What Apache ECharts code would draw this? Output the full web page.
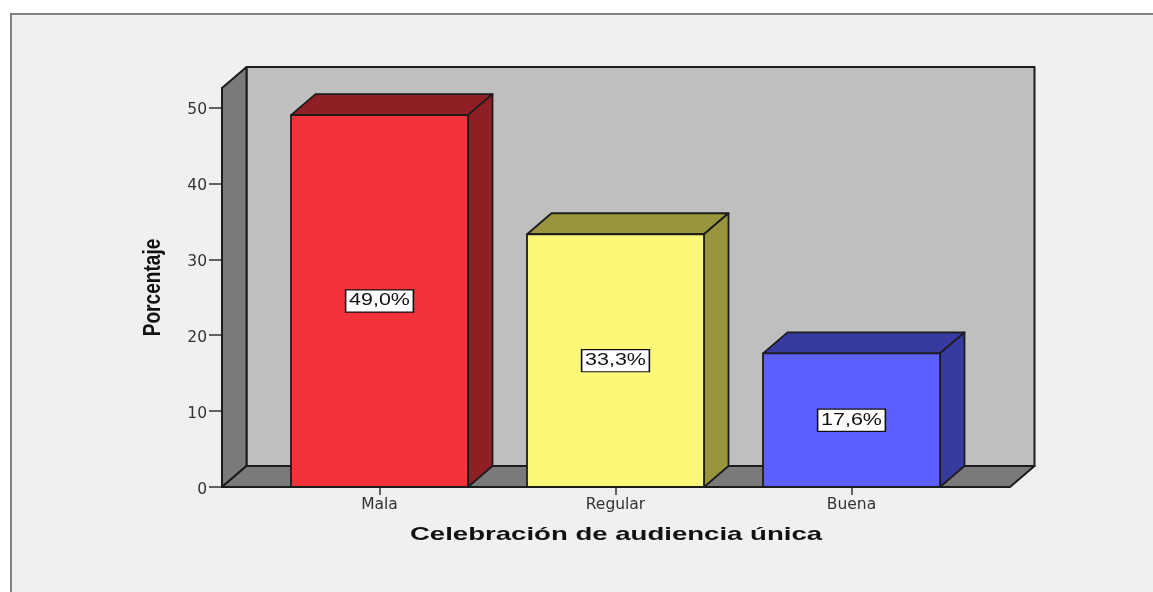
<!DOCTYPE html>
<html>
<head>
<meta charset="utf-8">
<style>html,body{margin:0;padding:0;background:#fff}#c{width:1153px;height:592px}</style>
<script src="https://cdn.jsdelivr.net/npm/echarts@6/dist/echarts.min.js"></script>
</head>
<body>
<div id="c"></div>
<script>
const categories = ['Mala', 'Regular', 'Buena'];
const percentages = [49.0, 33.3, 17.6];
const yTicks = [0, 10, 20, 30, 40, 50];
const frontColors = ['#f2333b', '#fbf877', '#5d5fff'];
const shadeColors = ['#8f1f24', '#99953f', '#373a9e'];
const xTitle = 'Celebración de audiencia única';
const yTitle = 'Porcentaje';

const depthX = 24.5, depthY = 21, padL = 39.5, padR = 40.5;
const ink = '#1c1c1c';
const chart = echarts.init(document.getElementById('c'));

function poly(points, fill, lw) {
  return { type: 'polygon', shape: { points }, style: { fill, stroke: ink, lineWidth: lw, lineJoin: 'round' } };
}
function renderWalls(params) {
  const g = params.coordSys;
  const l = g.x - padL, r = g.x + g.width + padR, t = g.y, b = g.y + g.height;
  return { type: 'group', children: [
    poly([[l + depthX, t - depthY], [r + depthX, t - depthY], [r + depthX, b - depthY], [l + depthX, b - depthY]], '#bfbfbf', 2),
    poly([[l, t], [l + depthX, t - depthY], [l + depthX, b - depthY], [l, b]], '#7a7a7a', 2),
    poly([[l, b], [l + depthX, b - depthY], [r + depthX, b - depthY], [r, b]], '#7a7a7a', 2)
  ]};
}
function renderBar(params, api) {
  const i = api.value(0), v = api.value(1);
  const base = api.coord([i, 0]), top = api.coord([i, v]), mid = api.coord([i, v / 2]);
  const w = api.size([1, 0])[0] * 0.75, x0 = base[0] - w / 2, x1 = base[0] + w / 2;
  const lw = 1.8;
  return { type: 'group', children: [
    poly([[x0, top[1]], [x0 + depthX, top[1] - depthY], [x1 + depthX, top[1] - depthY], [x1, top[1]]], shadeColors[i], lw),
    poly([[x1, top[1]], [x1 + depthX, top[1] - depthY], [x1 + depthX, base[1] - depthY], [x1, base[1]]], shadeColors[i], lw),
    poly([[x0, top[1]], [x1, top[1]], [x1, base[1]], [x0, base[1]]], frontColors[i], lw),
    { type: 'text', x: mid[0], y: mid[1], scaleX: 1.34, originX: 0, z2: 10, style: {
        text: v.toFixed(1).replace('.', ',') + '%', align: 'center', verticalAlign: 'middle',
        font: '16px "Liberation Sans"', fill: '#111', backgroundColor: '#fff',
        borderColor: '#111', borderWidth: 1.2, padding: [3, 2, 2, 2] } }
  ]};
}

chart.setOption({
  animation: false,
  backgroundColor: '#fff',
  graphic: [
    { type: 'rect', z: -100, shape: { x: 11, y: 14, width: 1300, height: 800 },
      style: { fill: '#f0f0f0', stroke: '#808080', lineWidth: 2 } },
    { type: 'text', z: 50, x: 616, y: 534.5, scaleX: 1.49, style: { text: xTitle, align: 'center', verticalAlign: 'middle',
        font: 'bold 18.5px "Liberation Sans"', fill: '#111' } },
    { type: 'text', z: 50, x: 154, y: 287.5, rotation: Math.PI / 2, scaleX: 0.83, style: { text: yTitle, align: 'center', verticalAlign: 'middle',
        font: 'bold 23px "Liberation Sans"', fill: '#111' } }
  ],
  grid: { left: 261.5, top: 88, width: 708, height: 399 },
  xAxis: {
    type: 'category', data: categories, boundaryGap: true,
    axisLine: { show: true, lineStyle: { color: ink, width: 2 } },
    axisTick: { show: true, alignWithLabel: true, length: 8, lineStyle: { color: '#333', width: 1.5 } },
    axisLabel: { fontFamily: 'DejaVu Sans', fontSize: 15.5, color: '#333', margin: 10 }
  },
  yAxis: {
    type: 'value', min: 0, max: 52.57, offset: 39.5, splitLine: { show: false },
    axisLine: { show: true, lineStyle: { color: ink, width: 2 } },
    axisTick: { show: true, length: 13, customValues: yTicks, lineStyle: { color: '#333', width: 1.5 } },
    axisLabel: { margin: 15, customValues: yTicks, formatter: '{v|{value}}',
      rich: { v: { fontFamily: 'DejaVu Sans', fontSize: 15.5, color: '#333', padding: [5, 0, 0, 0] } } }
  },
  series: [
    { type: 'custom', z: 1, silent: true, data: [[0, 0]], renderItem: renderWalls, clip: false },
    { type: 'custom', z: 3, data: percentages.map((v, i) => [i, v]), renderItem: renderBar,
      encode: { x: 0, y: 1 }, clip: false }
  ]
});
</script>
</body>
</html>
